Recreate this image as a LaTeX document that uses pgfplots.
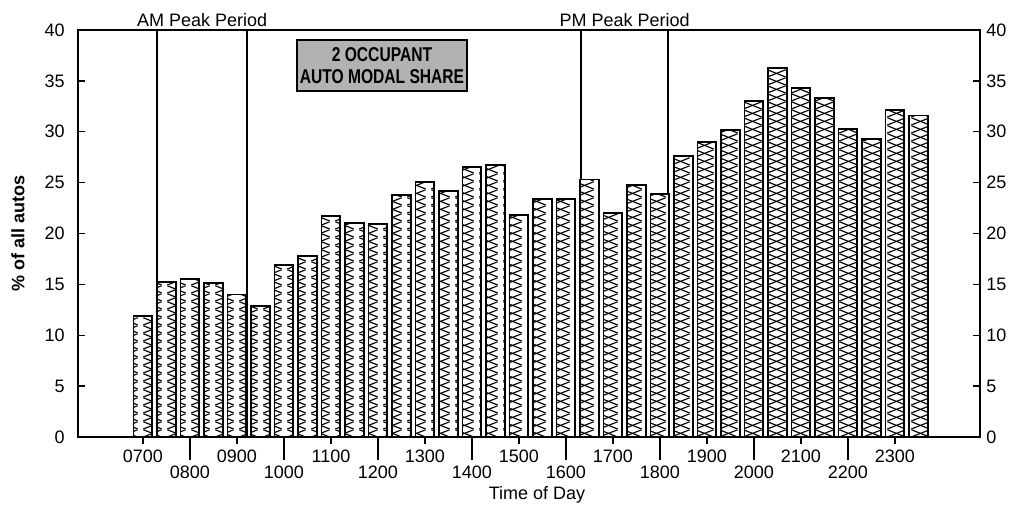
\documentclass[border=0pt]{standalone}
\usepackage{fontspec}
\setmainfont{Liberation Sans}
\newfontfamily\boxfont[FakeStretch=0.78]{Liberation Sans}
\usepackage{pgfplots}
\pgfplotsset{compat=1.18}
\usetikzlibrary{patterns.meta}

% X hatch, one tile per half-hour slot
\tikzdeclarepattern{
  name=barx,
  tile size={(11.75pt,3.8pt)},
  bounding box={(0pt,0pt) and (11.75pt,3.8pt)},
  code={
    \draw[line width=0.6pt] (1.2pt,0pt) -- (10.55pt,3.8pt);
    \draw[line width=0.6pt] (1.2pt,3.8pt) -- (10.55pt,0pt);
  }
}

\begin{document}
\fontsize{9}{10.8}\selectfont
\begin{tikzpicture}
\path[use as bounding box] (-39pt,-34pt) rectangle (468.5pt,218.5pt);

\begin{axis}[
  scale only axis,
  width=451pt, height=203.5pt,
  xmin=5.617, xmax=24.81,
  ymin=0, ymax=40,
  clip=false,
  axis line style={line width=0.9pt},
  tick style={line width=0.7pt, black},
  tick align=outside,
  major tick length=3.5pt,
  xtick pos=bottom,
  xtick={7,9,...,23},
  xticklabels={0700,0900,1100,1300,1500,1700,1900,2100,2300},
  extra x ticks={8,10,...,22},
  extra x tick labels={0800,1000,1200,1400,1600,1800,2000,2200},
  extra x tick style={major tick length=11.5pt},
  ytick={0,5,...,40},
  ytick pos=left,
  y tick style={draw=none},
  /pgf/number format/assume math mode=true,
  xlabel={Time of Day},
  ylabel={\textbf{\% of all autos}},
  xlabel style={at={(axis description cs:0.5,0)}, anchor=center, xshift=4pt, yshift=-29pt},
  ylabel style={at={(axis description cs:0,0.5)}, anchor=center, yshift=30pt},
]
\addplot[line width=0.6pt] coordinates {(7.3,0) (7.3,40)};
\addplot[line width=0.8pt] coordinates {(9.21,0) (9.21,40)};
\addplot[line width=0.8pt] coordinates {(16.32,0) (16.32,40)};
\addplot[line width=0.6pt] coordinates {(18.17,0) (18.17,40)};

\addplot[ybar, bar width=0.4, bar shift=0pt, draw=black, line width=0.9pt,
  fill=white, postaction={pattern=barx}] coordinates {
  (7,11.9) (7.5,15.25) (8,15.5) (8.5,15.15) (9,14.0) (9.5,12.9)
  (10,16.9) (10.5,17.8) (11,21.7) (11.5,21.0) (12,20.9) (12.5,23.8)
  (13,25.1) (13.5,24.2) (14,26.5) (14.5,26.7) (15,21.8) (15.5,23.4)
  (16,23.4) (16.5,25.3) (17,22.0) (17.5,24.8) (18,23.85) (18.5,27.6)
  (19,29.0) (19.5,30.2) (20,33.0) (20.5,36.3) (21,34.3) (21.5,33.35)
  (22,30.3) (22.5,29.3) (23,32.1) (23.5,31.6)
};

\node[anchor=south, inner sep=1.5pt] at (axis cs:8.26,40) {AM Peak Period};
\node[anchor=south, inner sep=1.5pt] at (axis cs:17.25,40) {PM Peak Period};
\node[draw, line width=0.8pt, fill=black!30, minimum width=85pt,
  minimum height=25.5pt, align=center, inner sep=0.5pt,
  font=\boxfont\fontsize{10}{11}\selectfont\bfseries]
  at (axis cs:12.085,36.5) {2 OCCUPANT\\AUTO MODAL SHARE};
\end{axis}

\begin{axis}[
  scale only axis,
  width=451pt, height=203.5pt,
  xmin=5.617, xmax=24.81,
  ymin=0, ymax=40,
  axis line style={line width=0.9pt},
  tick style={line width=0.7pt, black},
  tick align=inside,
  major tick length=3.5pt,
  xtick=\empty,
  ytick={0,5,...,40},
  ytick pos=both,
  yticklabel pos=right,
  /pgf/number format/assume math mode=true,
]
\end{axis}
\end{tikzpicture}
\end{document}
